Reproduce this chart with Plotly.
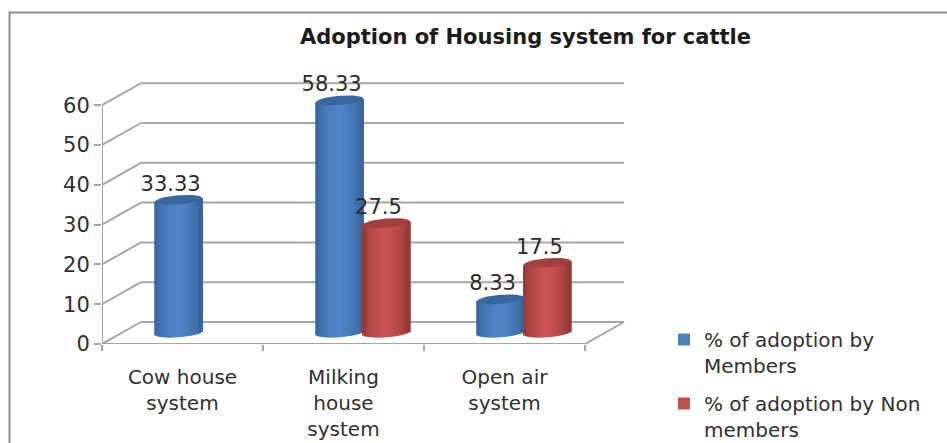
import math
import plotly.graph_objects as go

categories = ["Cow house<br>system", "Milking<br>house<br>system", "Open air<br>system"]
members = [33.33, 58.33, 8.33]
non_members = [None, 27.5, 17.5]
member_labels = ["33.33", "58.33", "8.33"]
non_member_labels = [None, "27.5", "17.5"]
y_ticks = [0, 10, 20, 30, 40, 50, 60]
series_names = ["% of adoption by<br>Members", "% of adoption by Non<br>members"]

W, H = 947, 443
L, R, T, B = 102, 625, 82, 344
PX_X = 161             # pixels per category
PX_Y = 3.98            # pixels per value unit
xmax = (R - L) / PX_X
ymax = (B - T) / PX_Y
DX = 39 / PX_X         # wall depth
DY = 22 / PX_Y
BAR_W = 46.8 / PX_X
BASE = 11.5 / PX_Y     # floor offset of the cylinders
DEPTH_X = 19.5 / PX_X
CAP_B = 4.6 / PX_Y
TILT = 1.8 / PX_Y
LABEL_UP = 14.5 / PX_Y
LABEL_LEFT = 8 / PX_X
N = 24


def mix(c1, c2, t):
    return "rgb(%d,%d,%d)" % tuple(round(a + (b - a) * t) for a, b in zip(c1, c2))


def cylinder(fig, values, shift, edge, mid, cap, name):
    centers = [i + 0.5 + DEPTH_X + shift for i in range(len(values))]
    for k in range(N):
        u = -1 + (2 * k + 1) / N
        shade = (1 - abs(u)) ** 0.55
        xs, bases, heights = [], [], []
        for c, v in zip(centers, values):
            if v is None:
                continue
            low = BASE - CAP_B * math.sqrt(1 - u * u) + TILT * u
            xs.append(c + u * BAR_W / 2)
            bases.append(low)
            heights.append(BASE + v + TILT * u - low)
        fig.add_trace(go.Bar(
            x=xs, y=heights, base=bases, width=BAR_W / N * 2.0,
            marker=dict(color=mix(edge, mid, shade), line=dict(width=0)),
            name=name, legendgroup=name, showlegend=False, hoverinfo="skip"))
    # top caps of the cylinders
    for c, v in zip(centers, values):
        if v is None:
            continue
        px, py = [], []
        for a in range(0, 361, 8):
            t = math.radians(a)
            px.append(c + math.cos(t) * BAR_W / 2)
            py.append(BASE + v + TILT * math.cos(t) + CAP_B * math.sin(t))
        fig.add_trace(go.Scatter(
            x=px, y=py, mode="lines", fill="toself", fillcolor=cap,
            line=dict(width=0, color=cap), legendgroup=name,
            showlegend=False, hoverinfo="skip"))
    return centers


fig = go.Figure()
blue = ((52, 94, 146), (80, 135, 203), "#37679f")
red = ((135, 52, 50), (205, 84, 82), "#a33f3c")
c1 = cylinder(fig, members, -BAR_W / 2, *blue, series_names[0])
c2 = cylinder(fig, non_members, BAR_W / 2, *red, series_names[1])

# legend entries
for name, col in zip(series_names, ["#4f81bd", "#c0504d"]):
    fig.add_trace(go.Bar(x=[None], y=[None], name=name, legendgroup=name,
                         marker=dict(color=col, line=dict(width=0))))

# value labels
for centers, vals, labs in ((c1, members, member_labels), (c2, non_members, non_member_labels)):
    xs = [c - LABEL_LEFT for c, v in zip(centers, vals) if v is not None]
    ys = [BASE + v + LABEL_UP for v in vals if v is not None]
    fig.add_trace(go.Scatter(
        x=xs, y=ys, mode="text", text=[t for t in labs if t is not None],
        textposition="middle center", cliponaxis=False,
        textfont=dict(family="DejaVu Sans", size=21, color="#2b2b2b"),
        showlegend=False, hoverinfo="skip"))

GRID = "#a6a6a6"
n_cat = len(categories)
shapes = []


def seg(x0, y0, x1, y1, w=2):
    shapes.append(dict(type="line", xref="x", yref="y", x0=x0, y0=y0, x1=x1, y1=y1,
                       layer="below", line=dict(color=GRID, width=w)))


for v in y_ticks:
    seg(0, v, DX, v + DY)
    seg(DX, v + DY, n_cat + DX, v + DY)
seg(0, y_ticks[0], 0, y_ticks[-1])
seg(0, 0, n_cat, 0)
seg(n_cat, 0, n_cat + DX, DY)

# chart frame: only the top and left edges fall inside the picture
pw, ph = R - L, B - T
shapes.append(dict(type="rect", xref="paper", yref="paper",
                   x0=(9.5 - L) / pw, x1=(970 - L) / pw,
                   y0=(B - 470) / ph, y1=(B - 12.5) / ph,
                   layer="below", line=dict(color="#8f8f8f", width=2)))

fig.update_layout(
    width=W, height=H, margin=dict(l=L, r=W - R, t=T, b=H - B, pad=0, autoexpand=False),
    paper_bgcolor="white", plot_bgcolor="rgba(0,0,0,0)", barmode="overlay",
    showlegend=True, shapes=shapes,
    font=dict(family="DejaVu Sans", size=20, color="#303030"),
    title=dict(text="<b>Adoption of Housing system for cattle</b>",
               x=525.5 / W, xanchor="center", y=1 - 37 / H, yanchor="middle",
               font=dict(family="DejaVu Sans", size=21, color="#1c1c1c")),
    xaxis=dict(range=[0, xmax], showgrid=False, zeroline=False, showline=False,
               tickmode="array", tickvals=[i + 0.5 for i in range(n_cat)], ticktext=categories,
               ticks="", ticklabelstandoff=19,
               minor=dict(tickmode="array", tickvals=list(range(n_cat + 1)), ticks="outside",
                          ticklen=6, tickwidth=2, tickcolor=GRID, showgrid=False),
               tickfont=dict(size=20, color="#303030"), fixedrange=True),
    yaxis=dict(range=[0, ymax], showgrid=False, zeroline=False, showline=False,
               tickmode="array", tickvals=y_ticks, ticks="outside", ticklen=7, tickwidth=2,
               tickcolor=GRID, tickfont=dict(size=21, color="#303030"), fixedrange=True),
    legend=dict(x=(664 - L) / pw, y=(B - 320) / ph, xanchor="left", yanchor="top", valign="top",
                bgcolor="rgba(0,0,0,0)", tracegroupgap=9, itemclick=False,
                font=dict(family="DejaVu Sans", size=20, color="#303030")),
)

fig.write_html("out.html", config={"displayModeBar": False},
               post_script="document.body.style.margin='0';")
